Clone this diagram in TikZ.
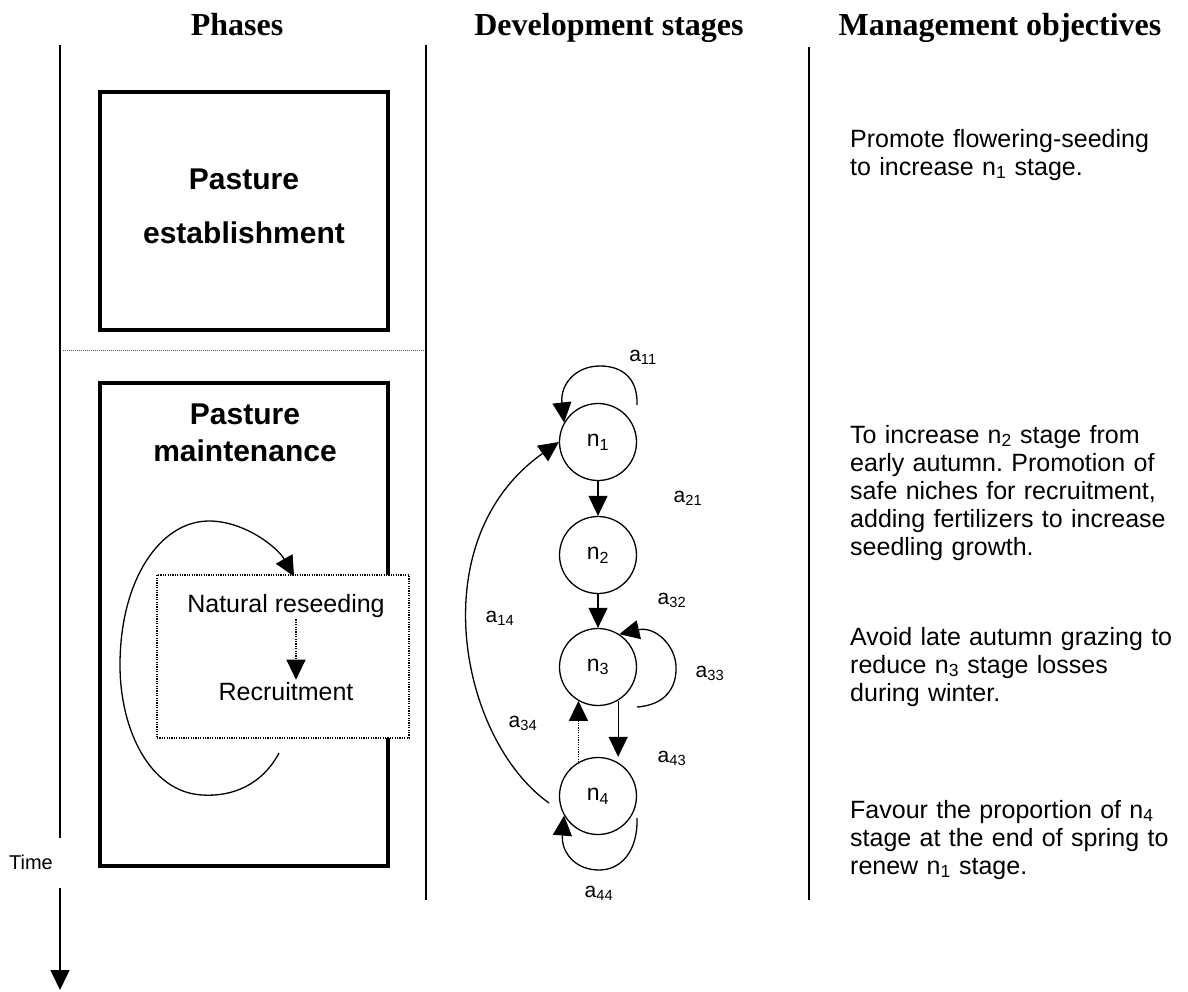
\documentclass[tikz,border=0pt]{standalone}
\usepackage{fontspec}
\setmainfont{Liberation Sans}
\newfontfamily\headfont{Liberation Serif}
\usetikzlibrary{arrows.meta,calc}
\frenchspacing

% justified line of the objectives column
\newcommand\jline[1]{\makebox[322pt][s]{#1}}

\tikzset{
  colline/.style={line width=1.4pt},
  heavybox/.style={draw, line width=3.5pt, inner sep=0pt},
  head/.style={font=\headfont\bfseries\fontsize{32}{36}\selectfont, anchor=base},
  phase/.style={font=\bfseries\fontsize{30}{54}\selectfont, align=center},
  stage/.style={circle, draw, line width=1.3pt, minimum size=77pt, inner sep=0pt,
                font=\fontsize{23}{26}\selectfont},
  rate/.style={font=\fontsize{21}{24}\selectfont, inner sep=1pt},
  body/.style={font=\fontsize{25}{28}\selectfont, inner sep=2pt},
  flow/.style={line width=1.3pt, -{Triangle[length=20pt,width=19pt]}},
  dotflow/.style={flow, dash pattern=on 1.2pt off 1.2pt},
  objtext/.style={anchor=base west, align=left, text width=322pt, inner sep=0pt,
                  font=\fontsize{25}{28}\selectfont},
}

\begin{document}
\begin{tikzpicture}[x=1pt, y=-1pt]
\useasboundingbox (0,0) rectangle (1188,991);

% column headings
\node[head] (hphase) at (237,35) {Phases};
\node[head] (hdev)   at (609,35) {Development stages};
\node[head] (hman)   at (1000,35) {Management objectives};

% column rules
\draw[colline] (60,45) -- (60,838);
\draw[colline] (426,45) -- (426,900);
\draw[colline] (809,47) -- (809,900);

% time axis
\node[font=\fontsize{20}{24}\selectfont] (time) at (31,862) {Time};
\coordinate (tstart) at (60,888);
\coordinate (tend) at (60,990);
\draw[flow] (tstart) -- (tend);

% phases
\node[heavybox, minimum width=288pt, minimum height=238pt] (estab) at (244,211) {};
\node[phase] (estabtxt) at (244,206) {Pasture\\establishment};
\draw[line width=0.9pt, dash pattern=on 1pt off 1pt, gray!70!black] (63,350) -- (425,350);

\node[heavybox, minimum width=288pt, minimum height=483pt] (maint) at (244,624.5) {};
\node[phase, font=\bfseries\fontsize{30}{37}\selectfont, anchor=base] (mainttxt) at (245,461) {Pasture\\maintenance};

\node[draw, fill=white, line width=1.3pt, dash pattern=on 1.2pt off 1.2pt,
      minimum width=252pt, minimum height=163pt, inner sep=0pt] (reseed) at (283,656.5) {};
\node[body, anchor=base] (natural) at (286,612) {Natural reseeding};
\node[body, anchor=base] (recruit) at (286,700) {Recruitment};
\draw[dotflow] ($(natural.south)+(10,0)$) -- ($(recruit.north)+(10,0)$);

% cycle of the maintenance phase
\coordinate (cyc) at (279,753);
\draw[flow] (cyc) .. controls (262,785) and (232,797) .. (202,795)
  .. controls (150,792) and (120,730) .. (120,665)
  .. controls (120,580) and (160,521) .. (209,521)
  .. controls (245,521) and (278,548) .. ($(reseed.north)+(11,2)$);

% development stages
\node[stage] (n1) at (598,442) {n\textsubscript{1}};
\node[stage] (n2) at (598,555) {n\textsubscript{2}};
\node[stage] (n3) at (598,667) {n\textsubscript{3}};
\node[stage] (n4) at (598,796) {n\textsubscript{4}};

\draw[flow] (n1.south) -- (n2.north);
\draw[flow] (n2.south) -- (n3.north);
\draw[flow] (n3.-59) -- (n3.-59 |- n4.north);
\draw[dotflow] (n4.120) -- (n3.-120);

% self loops and return path
\coordinate (l11) at (637,405);
\draw[flow] (l11) .. controls (638,378) and (622,366) .. (600,366)
  .. controls (575,366) and (560,385) .. (n1.150);
\coordinate (l33) at (637,707);
\draw[flow] (l33) .. controls (665,705) and (677,688) .. (676,666)
  .. controls (675,645) and (655,626) .. (n3.57);
\coordinate (l44) at (637,818);
\draw[flow] (l44) .. controls (638,850) and (622,870) .. (599,870)
  .. controls (575,870) and (561,852) .. (n4.-150);
\coordinate (l14) at (549,803);
\draw[flow] (l14) .. controls (460,740) and (420,540) .. (n1.west);

% transition labels
\node[rate] (a11) at (643,357) {a\textsubscript{11}};
\node[rate] (a21) at (688,498) {a\textsubscript{21}};
\node[rate] (a32) at (672,600) {a\textsubscript{32}};
\node[rate] (a14) at (500,618) {a\textsubscript{14}};
\node[rate] (a33) at (710,673) {a\textsubscript{33}};
\node[rate] (a34) at (523,723) {a\textsubscript{34}};
\node[rate] (a43) at (672,758) {a\textsubscript{43}};
\node[rate] (a44) at (599,893) {a\textsubscript{44}};

% management objectives
\node[objtext] (obj1) at (850,147) {Promote flowering-seeding\\to increase n\textsubscript{1} stage.};
\node[objtext] (obj2) at (850,443) {\jline{To increase n\textsubscript{2} stage from}\\
  \jline{early autumn. Promotion of}\\
  \jline{safe niches for recruitment,}\\
  \jline{adding fertilizers to increase}\\
  seedling growth.};
\node[objtext] (obj3) at (850,645) {\jline{Avoid late autumn grazing to}\\
  \jline{reduce n\textsubscript{3} stage losses}\\
  during winter.};
\node[objtext] (obj4) at (850,818) {\jline{Favour the proportion of n\textsubscript{4}}\\
  \jline{stage at the end of spring to}\\
  renew n\textsubscript{1} stage.};
\end{tikzpicture}
\end{document}
